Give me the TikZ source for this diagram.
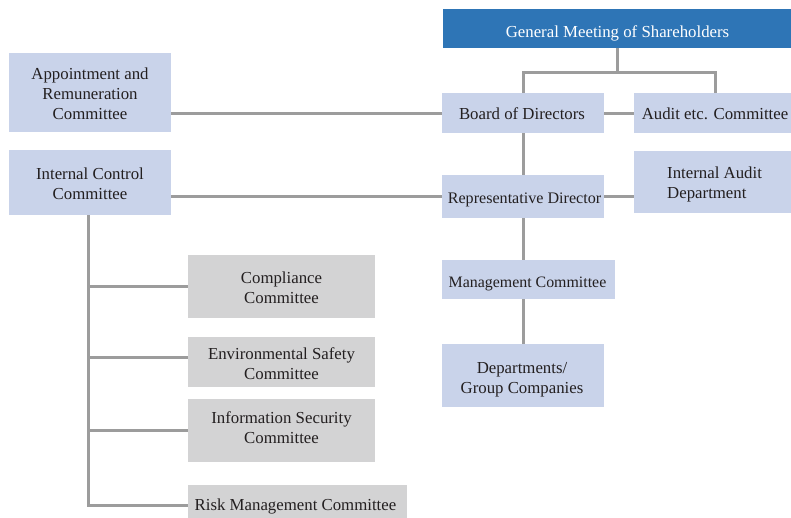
\documentclass[tikz,border=0pt]{standalone}
\usepackage{fontspec}
\setmainfont{Liberation Serif}
\definecolor{gmsblue}{HTML}{2E75B6}
\definecolor{boxblue}{HTML}{C9D3EA}
\definecolor{boxgray}{HTML}{D3D3D4}
\definecolor{linegray}{HTML}{9C9C9C}
\definecolor{ink}{HTML}{231F20}
\begin{document}
\begin{tikzpicture}[x=1pt,y=-1pt,
  font=\fontsize{16.8}{20}\selectfont,
  box/.style={rectangle, fill=boxblue, inner sep=0pt},
  graybox/.style={rectangle, fill=boxgray, inner sep=0pt},
  topbox/.style={rectangle, fill=gmsblue, inner sep=0pt},
  txt/.style={text=ink, align=center, inner sep=0pt},
  conn/.style={draw=linegray, line width=3pt}]
\useasboundingbox (0,0) rectangle (791,517);
\clip (0,0) rectangle (791,517);

% governance column
\node[topbox, minimum width=349pt, minimum height=39pt] (gms) at (617.5,28.5) {};
\node[box, minimum width=162pt, minimum height=40pt] (board) at (523,113) {};
\node[box, minimum width=162pt, minimum height=40pt] (audit) at (715,113) {};
\node[box, minimum width=170pt, minimum height=62pt] (intaudit) at (719,182) {};
\node[box, minimum width=162pt, minimum height=43pt] (rep) at (523,196.5) {};
\node[box, minimum width=173pt, minimum height=39pt] (mgmt) at (528.5,279.5) {};
\node[box, minimum width=162pt, minimum height=63pt] (depts) at (523,375.5) {};

% committees on the left
\node[box, minimum width=162pt, minimum height=79pt] (appoint) at (90,92.5) {};
\node[box, minimum width=162pt, minimum height=65pt] (intctrl) at (90,182.5) {};
\node[graybox, minimum width=187pt, minimum height=63pt] (compl) at (281.5,286.5) {};
\node[graybox, minimum width=187pt, minimum height=50pt] (env) at (281.5,362) {};
\node[graybox, minimum width=187pt, minimum height=63pt] (info) at (281.5,430.5) {};
\node[graybox, minimum width=219pt, minimum height=35pt] (risk) at (297.5,502.5) {};

% box texts
\node[txt, text=white] (gms-t) at ([yshift=-5pt]gms.center) {General Meeting of Shareholders};
\node[txt] (board-t) at ([shift={(-1pt,-0.5pt)}]board.center) {Board of Directors};
\node[txt] (audit-t) at ([yshift=-1pt]audit.center) {Audit etc. Committee};
\node[txt, anchor=west, align=left] (intaudit-t) at ([yshift=-2.5pt]intaudit.west -| 667,0) {Internal Audit\\Department};
\node[txt, font=\fontsize{16.1}{20}\selectfont] (rep-t) at ([shift={(1.5pt,-3pt)}]rep.center) {Representative Director};
\node[txt, font=\fontsize{15.9}{20}\selectfont] (mgmt-t) at ([shift={(-1pt,-4pt)}]mgmt.center) {Management Committee};
\node[txt] (depts-t) at ([shift={(-1pt,-4pt)}]depts.center) {Departments/\\Group Companies};
\node[txt] (appoint-t) at ([yshift=-1.5pt]appoint.center) {Appointment and\\Remuneration\\Committee};
\node[txt] (intctrl-t) at ([yshift=-1pt]intctrl.center) {Internal Control\\Committee};
\node[txt] (compl-t) at ([yshift=-1pt]compl.center) {Compliance\\Committee};
\node[txt] (env-t) at ([yshift=-2pt]env.center) {Environmental Safety\\Committee};
\node[txt] (info-t) at ([yshift=3pt]info.center) {Information Security\\Committee};
\node[txt] (risk-t) at ([shift={(-2pt,-4pt)}]risk.center) {Risk Management Committee};

% connectors
\coordinate (split) at (618,72);
\coordinate (tk) at (88.5,0);
\draw[conn] (gms.south) -- (gms.south |- split);
\draw[conn] (board.north) |- (split) -| (audit.north);
\draw[conn] (board) -- (audit);
\draw[conn] (appoint.east |- board.west) -- (board.west);
\draw[conn] (board) -- (rep);
\draw[conn] (intctrl.east |- rep.west) -- (rep.west);
\draw[conn] (rep.east) -- (rep.east -| intaudit.west);
\draw[conn] (rep.south) -- (rep.south |- mgmt.north);
\draw[conn] (depts.north) -- (depts.north |- mgmt.south);
\draw[conn] (intctrl.south -| tk) |- ([yshift=-2.5pt]risk.west);
\draw[conn] (tk |- compl.west) -- (compl.west);
\draw[conn] (tk |- 0,357) -- ([yshift=5pt]env.west);
\draw[conn] (tk |- info.west) -- (info.west);
\end{tikzpicture}
\end{document}
